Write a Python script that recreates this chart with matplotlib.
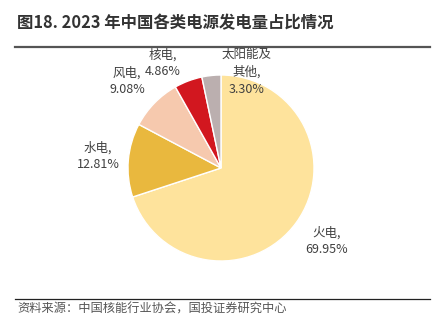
import matplotlib
matplotlib.use("Agg")
import matplotlib.pyplot as plt
from matplotlib.lines import Line2D

plt.rcParams['font.family'] = ['Noto Sans CJK SC', 'DejaVu Sans']

categories = ['火电', '水电', '风电', '核电', '太阳能及\n其他']
values = [69.95, 12.81, 9.08, 4.86, 3.30]
colors = ['#FEE39C', '#E9B83E', '#F6C9AE', '#D2171F', '#BBAFAF']

W, H = 433, 333
cx, cy, R = 221, 168, 93

fig = plt.figure(figsize=(W / 100, H / 100), dpi=100)
ax = fig.add_axes([0, 0, 1, 1])
ax.pie(values, colors=colors, startangle=90, counterclock=False, radius=1,
       wedgeprops=dict(edgecolor='white', linewidth=1.0))
ax.set_xlim(-cx / R, (W - cx) / R)
ax.set_ylim(-(H - cy) / R, cy / R)
ax.set_aspect('equal')
ax.axis('off')

# label positions in pixel coords (styling only)
label_px = [(327, 241), (98, 156), (127, 81), (163, 63), (247, 72)]
for cat, v, (px, py) in zip(categories, values, label_px):
    ax.text((px - cx) / R, (cy - py) / R, f"{cat},\n{v:.2f}%",
            ha='center', va='center', fontsize=9, color='#404040',
            linespacing=1.4)

fig.text(17 / W, 1 - 23 / H, '图18. 2023 年中国各类电源发电量占比情况',
         fontsize=11.8, fontweight='bold', color='#333333', ha='left', va='center')
fig.add_artist(Line2D([15 / W, 430 / W], [1 - 47 / H, 1 - 47 / H],
                      color='#555555', linewidth=1.6, transform=fig.transFigure))
fig.add_artist(Line2D([15 / W, 430 / W], [1 - 299 / H, 1 - 299 / H],
                      color='#222222', linewidth=0.9, transform=fig.transFigure))
fig.text(17 / W, 1 - 309 / H, '资料来源：中国核能行业协会，国投证券研究中心',
         fontsize=8.8, color='#555555', ha='left', va='center', style='italic')

fig.savefig('out.png', dpi=100)
